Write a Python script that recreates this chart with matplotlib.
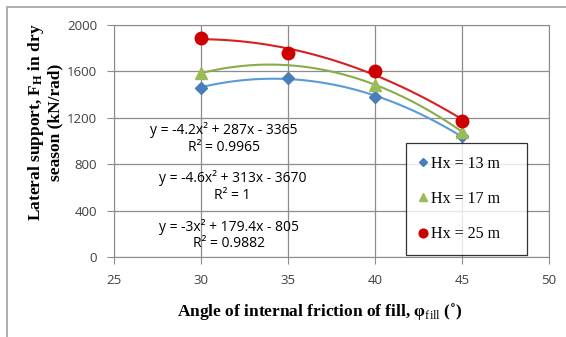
import numpy as np
import matplotlib
matplotlib.use("Agg")
import matplotlib.pyplot as plt
from matplotlib.patches import Rectangle

# data
angles = [30, 35, 40, 45]
hx13 = [1460, 1545, 1380, 1040]
hx17 = [1585, np.nan, 1485, 1080]
hx25 = [1890, 1760, 1605, 1175]
labels = ["Hx = 13 m", "Hx = 17 m", "Hx = 25 m"]
eq_texts = [
    "y = -4.2x\u00b2 + 287x - 3365\nR\u00b2 = 0.9965",
    "y = -4.6x\u00b2 + 313x - 3670\nR\u00b2 = 1",
    "y = -3x\u00b2 + 179.4x - 805\nR\u00b2 = 0.9882",
]
eq_pos = [(31.3, 1020), (31.8, 605), (31.6, 190)]

plt.rcParams["mathtext.fontset"] = "custom"
plt.rcParams["mathtext.rm"] = "Liberation Serif"
plt.rcParams["mathtext.bf"] = "Liberation Serif:bold"

fig = plt.figure(figsize=(5.66, 3.37), dpi=100)
ax = fig.add_axes([114 / 566, 1 - 257 / 337, 435 / 566, 232 / 337])

# outer frame of the chart area
fig.patches.append(Rectangle((7 / 566, -0.1), 1.2, 1 - 7 / 337 + 0.1,
                             transform=fig.transFigure, fill=False,
                             edgecolor="#a0a0a0", lw=1.2))

series = [
    (hx13, "D", "#4a7ebb", "#5b9bd5", 6.5),
    (hx17, "^", "#9bbb59", "#8aab4a", 8),
    (hx25, "o", "#cc0000", "#d62020", 9),
]
xs = np.linspace(30, 45, 100)
for (vals, mk, mc, lc, ms), lab in zip(series, labels):
    x = np.array(angles, dtype=float)
    y = np.array(vals, dtype=float)
    ok = ~np.isnan(y)
    coef = np.polyfit(x[ok], y[ok], 2)
    ax.plot(xs, np.polyval(coef, xs), color=lc, lw=1.5, zorder=2)
    ax.plot(x, y, ls="none", marker=mk, color=mc, ms=ms, label=lab, zorder=3)

for txt, (tx, ty) in zip(eq_texts, eq_pos):
    ax.text(tx, ty, txt, ha="center", va="center", fontsize=10,
            family="Open Sans", linespacing=1.15, zorder=4)

ax.set_xlim(25, 50)
ax.set_ylim(0, 2000)
ax.set_xticks([25, 30, 35, 40, 45, 50])
ax.set_yticks([0, 400, 800, 1200, 1600, 2000])
ax.grid(True, color="#8c8c8c", lw=0.9)
ax.set_axisbelow(True)
for s in ax.spines.values():
    s.set_color("#8c8c8c")
ax.tick_params(colors="#8c8c8c", length=5, labelcolor="#404040",
               labelsize=9.5)
for t in ax.get_xticklabels() + ax.get_yticklabels():
    t.set_family("Open Sans")
ax.tick_params(axis="x", pad=7)
ax.tick_params(axis="y", pad=7)

fig.text(45 / 566, 1 - 122 / 337,
         "Lateral support, $\\mathbf{F_H}$ in dry\nseason (kN/rad)",
         rotation=90, ha="center", va="center", fontsize=12.5,
         fontweight="bold", family=["Liberation Serif", "DejaVu Serif"],
         linespacing=1.1)
fig.text(320 / 566, 1 - 311 / 337,
         "Angle of internal friction of fill, \u03c6$_{\\mathrm{fill}}$ (\u02da)",
         ha="center", va="center", fontsize=12.5, fontweight="bold",
         family=["Liberation Serif", "DejaVu Serif"])

leg = ax.legend(loc="lower left", bbox_to_anchor=(0.671, 0.009, 0.278, 0.469),
                mode="expand", frameon=True, fancybox=False, edgecolor="black",
                prop={"family": "Liberation Serif", "size": 11.5},
                labelspacing=1.2, handlelength=0.6, handletextpad=0.2,
                markerscale=0.7, borderpad=0.8, borderaxespad=0)
leg.get_frame().set_linewidth(0.9)

fig.savefig("out.png", dpi=100)
